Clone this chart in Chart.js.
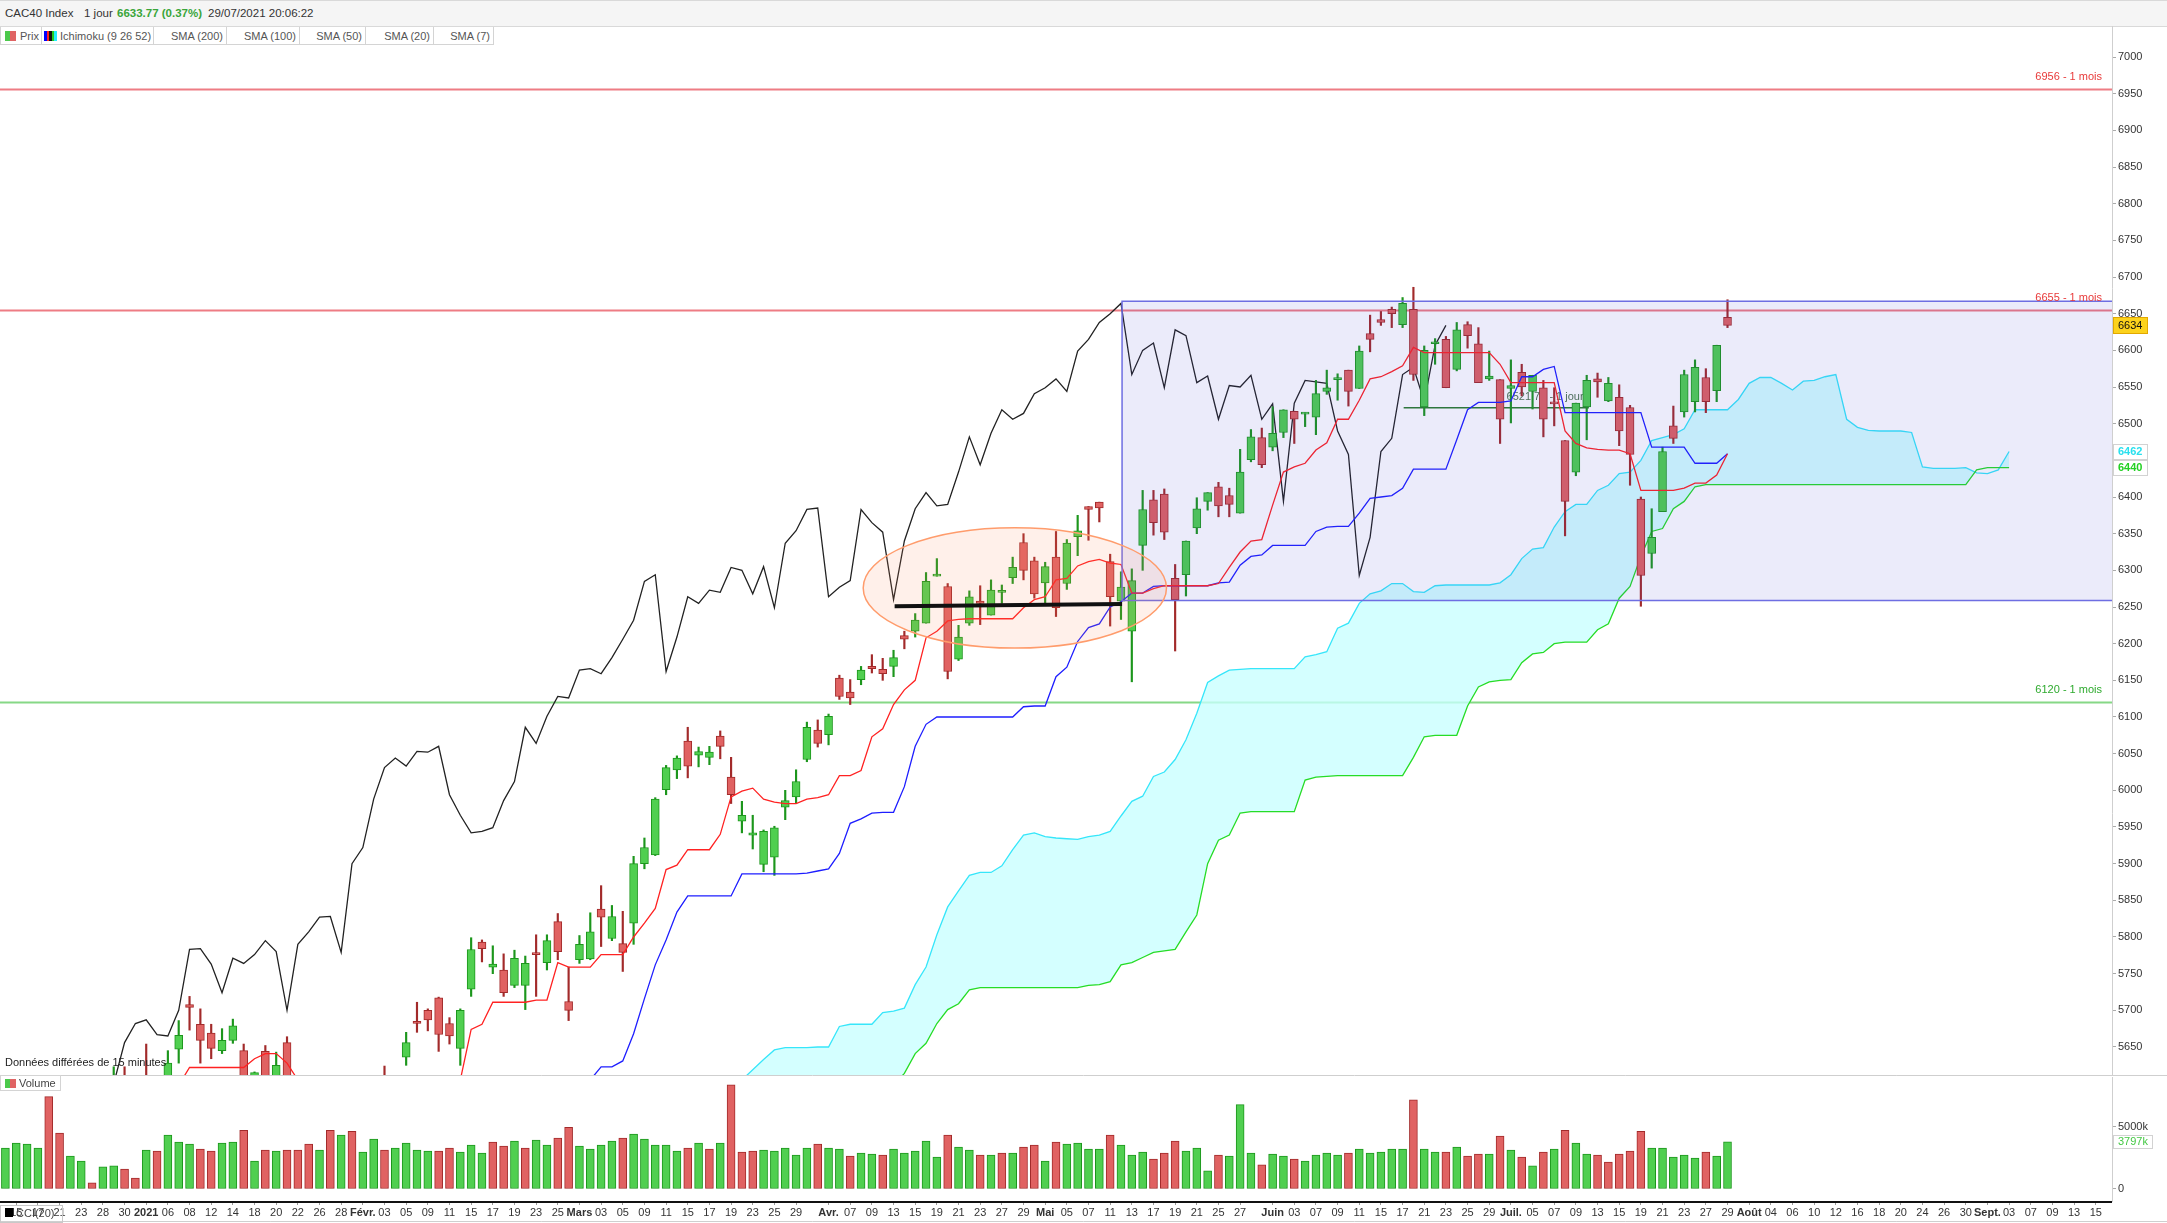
<!DOCTYPE html>
<html><head><meta charset="utf-8">
<script src="https://cdn.jsdelivr.net/npm/chart.js@4.4.0/dist/chart.umd.min.js"></script>
<style>
html,body{margin:0;padding:0;background:#fff;}
body{width:2167px;height:1223px;position:relative;overflow:hidden;font-family:"Liberation Sans",Arial,sans-serif;}
#hdr{position:absolute;left:0;top:0;width:2167px;height:27px;background:#f5f5f5;border-top:1px solid #d9d9d9;border-bottom:1px solid #d9d9d9;box-sizing:border-box;font-size:11.5px;color:#333;}
#hdr span{position:absolute;top:6px;white-space:nowrap;}
#hdr .g{color:#3aa53a;font-weight:bold;}
#leg{position:absolute;left:0;top:27px;height:19px;width:494px;z-index:3;}
#leg .it{position:absolute;top:0;height:18px;border:1px solid #d4d4d4;border-top:none;background:#fff;box-sizing:border-box;font-size:11px;color:#555;}
#leg .it span{position:absolute;top:3px;white-space:nowrap;}
#leg i{position:absolute;top:4px;height:10px;display:block;}
canvas{position:absolute;left:0;}
#pc{top:26px;z-index:1;}
#vc{top:1075px;z-index:1;}
</style>
</head><body>
<div id="hdr"><span style="left:5px">CAC40 Index</span><span style="left:84px">1 jour</span><span class="g" style="left:117px">6633.77 (0.37%)</span><span style="left:208px">29/07/2021 20:06:22</span></div>
<div id="leg">
 <div class="it" style="left:0;width:42px"><i style="left:4px;width:11px;background:linear-gradient(90deg,#4cc94c 50%,#e06464 50%)"></i><span style="left:19px">Prix</span></div>
 <div class="it" style="left:41px;width:113px"><i style="left:2px;width:13px;background:linear-gradient(90deg,#0000ff 0 20%,#ff2020 20% 40%,#111 40% 60%,#22cc22 60% 80%,#22eeff 80% 100%)"></i><span style="left:18px">Ichimoku (9 26 52)</span></div>
 <div class="it" style="left:153px;width:74px"><span style="right:3px">SMA (200)</span></div>
 <div class="it" style="left:226px;width:74px"><span style="right:3px">SMA (100)</span></div>
 <div class="it" style="left:299px;width:67px"><span style="right:3px">SMA (50)</span></div>
 <div class="it" style="left:365px;width:69px"><span style="right:3px">SMA (20)</span></div>
 <div class="it" style="left:433px;width:61px"><span style="right:3px">SMA (7)</span></div>
</div>
<canvas id="pc" width="2167" height="1049"></canvas>
<canvas id="vc" width="2167" height="148"></canvas>
<script>
// ---------------- DATA ----------------
const categories = [
"2020-12-14","2020-12-15","2020-12-16","2020-12-17","2020-12-18","2020-12-21","2020-12-22","2020-12-23","2020-12-24","2020-12-28","2020-12-29","2020-12-30","2020-12-31",
"2021-01-04","2021-01-05","2021-01-06","2021-01-07","2021-01-08","2021-01-11","2021-01-12","2021-01-13","2021-01-14","2021-01-15","2021-01-18","2021-01-19","2021-01-20","2021-01-21","2021-01-22","2021-01-25","2021-01-26","2021-01-27","2021-01-28","2021-01-29",
"2021-02-01","2021-02-02","2021-02-03","2021-02-04","2021-02-05","2021-02-08","2021-02-09","2021-02-10","2021-02-11","2021-02-12","2021-02-15","2021-02-16","2021-02-17","2021-02-18","2021-02-19","2021-02-22","2021-02-23","2021-02-24","2021-02-25","2021-02-26",
"2021-03-01","2021-03-02","2021-03-03","2021-03-04","2021-03-05","2021-03-08","2021-03-09","2021-03-10","2021-03-11","2021-03-12","2021-03-15","2021-03-16","2021-03-17","2021-03-18","2021-03-19","2021-03-22","2021-03-23","2021-03-24","2021-03-25","2021-03-26","2021-03-29","2021-03-30","2021-03-31",
"2021-04-01","2021-04-06","2021-04-07","2021-04-08","2021-04-09","2021-04-12","2021-04-13","2021-04-14","2021-04-15","2021-04-16","2021-04-19","2021-04-20","2021-04-21","2021-04-22","2021-04-23","2021-04-26","2021-04-27","2021-04-28","2021-04-29","2021-04-30",
"2021-05-03","2021-05-04","2021-05-05","2021-05-06","2021-05-07","2021-05-10","2021-05-11","2021-05-12","2021-05-13","2021-05-14","2021-05-17","2021-05-18","2021-05-19","2021-05-20","2021-05-21","2021-05-24","2021-05-25","2021-05-26","2021-05-27","2021-05-28","2021-05-31",
"2021-06-01","2021-06-02","2021-06-03","2021-06-04","2021-06-07","2021-06-08","2021-06-09","2021-06-10","2021-06-11","2021-06-14","2021-06-15","2021-06-16","2021-06-17","2021-06-18","2021-06-21","2021-06-22","2021-06-23","2021-06-24","2021-06-25","2021-06-28","2021-06-29","2021-06-30",
"2021-07-01","2021-07-02","2021-07-05","2021-07-06","2021-07-07","2021-07-08","2021-07-09","2021-07-12","2021-07-13","2021-07-14","2021-07-15","2021-07-16","2021-07-19","2021-07-20","2021-07-21","2021-07-22","2021-07-23","2021-07-26","2021-07-27","2021-07-28","2021-07-29","2021-07-30",
"2021-08-02","2021-08-03","2021-08-04","2021-08-05","2021-08-06","2021-08-09","2021-08-10","2021-08-11","2021-08-12","2021-08-13","2021-08-16","2021-08-17","2021-08-18","2021-08-19","2021-08-20","2021-08-23","2021-08-24","2021-08-25","2021-08-26","2021-08-27","2021-08-30","2021-08-31",
"2021-09-01","2021-09-02","2021-09-03","2021-09-06","2021-09-07","2021-09-08","2021-09-09","2021-09-10","2021-09-13","2021-09-14","2021-09-15","2021-09-16"];

const opens = [5510,5520,5555,5560,5565,5500,5420,5480,5530,5540,
5595,5608,5590,5610,5570,5560,5647,5708,5681,5669,
5645,5659,5645,5596,5644,5600,5656,5580,5570,5500,
5530,5460,5480,5420,5490,5600,5570,5636,5685,5700,
5717,5682,5648,5729,5793,5759,5755,5734,5734,5778,
5765,5821,5712,5769,5770,5838,5798,5791,5819,5900,
5912,6001,6028,6067,6048,6045,6074,6018,5958,5939,
5899,5909,5977,5991,6042,6082,6076,6153,6134,6151,
6169,6165,6169,6211,6217,6228,6292,6278,6179,6228,
6258,6239,6270,6290,6338,6313,6283,6318,6282,6346,
6387,6393,6312,6258,6217,6334,6396,6404,6289,6294,
6358,6394,6414,6402,6378,6451,6481,6468,6488,6517,
6513,6509,6544,6560,6573,6548,6623,6642,6656,6635,
6656,6523,6609,6615,6574,6635,6609,6561,6560,6548,
6570,6544,6549,6528,6477,6434,6523,6561,6531,6536,
6522,6397,6323,6380,6497,6516,6530,6563,6545,6645];

const highs = [5560,5555,5575,5590,5580,5510,5480,5540,5540,5600,
5623,5623,5600,5654,5600,5645,5686,5719,5702,5681,
5675,5688,5654,5616,5652,5643,5664,5600,5590,5570,
5550,5520,5490,5470,5580,5624,5610,5670,5711,5702,
5718,5690,5702,5799,5796,5788,5777,5782,5774,5803,
5803,5832,5759,5802,5833,5870,5843,5835,5910,5935,
5990,6034,6047,6086,6059,6060,6081,6045,5985,5966,
5946,5951,6000,6028,6093,6096,6104,6157,6151,6169,
6185,6180,6191,6217,6241,6297,6316,6282,6225,6272,
6279,6287,6280,6318,6350,6318,6311,6353,6342,6375,
6387,6393,6322,6298,6302,6409,6409,6411,6308,6340,
6399,6406,6420,6412,6465,6492,6494,6523,6519,6517,
6515,6559,6573,6568,6573,6606,6648,6653,6659,6672,
6686,6606,6616,6619,6638,6639,6631,6599,6560,6587,
6581,6566,6559,6549,6477,6528,6566,6569,6563,6553,
6525,6400,6384,6468,6524,6573,6587,6575,6607,6669];

const lows = [5500,5505,5535,5550,5510,5340,5400,5470,5510,5530,
5580,5590,5540,5556,5540,5550,5628,5673,5628,5634,
5641,5655,5590,5580,5585,5590,5580,5530,5460,5490,
5460,5440,5390,5400,5480,5540,5560,5625,5670,5672,
5644,5654,5625,5719,5766,5750,5719,5731,5701,5719,
5755,5769,5686,5764,5769,5787,5795,5753,5790,5893,
5911,5994,6016,6017,6032,6035,6043,5982,5942,5920,
5889,5884,5960,5982,6039,6059,6062,6124,6117,6144,
6160,6150,6155,6193,6209,6228,6292,6152,6177,6225,
6226,6239,6255,6282,6287,6262,6255,6237,6274,6320,
6341,6366,6224,6233,6148,6300,6348,6342,6190,6265,
6350,6382,6373,6373,6378,6448,6440,6463,6481,6473,
6496,6485,6540,6532,6524,6548,6598,6634,6631,6631,
6559,6511,6581,6549,6572,6603,6556,6559,6473,6501,
6538,6520,6482,6497,6347,6429,6478,6536,6530,6470,
6416,6251,6303,6380,6473,6509,6516,6515,6530,6631];

const closes = [5528,5548,5549,5570,5528,5393,5466,5527,5522,5588,
5608,5599,5551,5588,5564,5628,5666,5704,5659,5648,
5659,5679,5611,5615,5598,5625,5590,5559,5521,5530,
5481,5511,5399,5461,5570,5560,5600,5656,5682,5687,
5667,5665,5700,5783,5784,5763,5724,5771,5764,5776,
5795,5780,5700,5790,5807,5827,5828,5779,5900,5922,
5988,6031,6044,6033,6053,6052,6060,5994,5966,5942,
5944,5949,5986,6012,6086,6064,6101,6128,6126,6164,
6166,6159,6181,6206,6232,6285,6294,6162,6209,6264,
6255,6273,6270,6304,6300,6268,6305,6249,6337,6354,
6383,6385,6264,6277,6286,6383,6365,6352,6260,6340,
6384,6406,6388,6390,6434,6482,6444,6487,6519,6506,
6514,6541,6549,6561,6544,6599,6615,6638,6650,6664,
6567,6600,6610,6549,6628,6620,6556,6565,6506,6552,
6550,6566,6506,6527,6394,6528,6559,6557,6555,6490,
6458,6293,6345,6462,6480,6567,6577,6530,6607,6634];

// volume in thousands
const volumes = [3300,3700,3620,3300,7450,4500,2660,2260,505,1780,
1860,1600,880,3140,3060,4340,3780,3620,3220,3060,
3700,3780,4730,2260,3140,3060,3140,3140,3620,3140,
4730,4340,4650,2980,4020,3140,3300,3700,3140,3060,
3060,3300,2980,3540,2900,3780,3460,3860,3300,3940,
3540,4100,4970,3460,3220,3540,3860,4100,4420,4020,
3540,3540,3060,3300,3700,3220,3700,8400,2980,3060,
3140,3060,3300,2740,3300,3620,3300,3220,2660,2900,
2820,2740,3220,2900,3060,3860,2580,4340,3380,3140,
2740,2740,2900,2900,3380,3540,2260,3780,3620,3700,
3220,3220,4340,3540,2740,2980,2420,2900,3860,3060,
3300,1460,2740,2660,6800,2900,1940,2820,2660,2420,
2260,2740,2900,2740,2900,3220,2900,2980,3220,3220,
7200,3220,2980,2980,3380,2660,2820,2820,4260,3140,
2580,1860,2980,3220,4730,3700,2820,2740,2180,2820,
3060,4650,3300,3300,2580,2740,2500,2980,2660,3797];

const tenkan = [5480,5490,5500,5510,5515,5465,5465,5465,5465,5480,
5482,5482,5482,5497,5520,5562,5598,5622,5622,5622,
5622,5622,5622,5634,5641,5641,5628,5605,5574,5574,
5574,5552,5527,5527,5527,5507,5507,5530,5550,5550,
5554,5559,5605,5674,5681,5711,5711,5711,5711,5714,
5714,5765,5759,5759,5759,5776,5776,5776,5800,5819,
5839,5892,5898,5919,5919,5919,5940,5991,5999,6003,
5988,5984,5982,5982,5988,5990,5994,6020,6020,6027,
6073,6084,6117,6137,6150,6208,6217,6231,6233,6234,
6234,6234,6234,6234,6249,6260,6264,6287,6289,6306,
6312,6315,6310,6308,6269,6269,6275,6279,6279,6279,
6279,6279,6282,6304,6325,6340,6342,6389,6434,6441,
6446,6464,6474,6506,6506,6532,6561,6564,6571,6579,
6604,6597,6597,6597,6597,6597,6597,6597,6581,6556,
6556,6556,6556,6556,6490,6473,6467,6465,6464,6464,
6459,6409,6409,6409,6409,6412,6419,6419,6430,6459];

const kijun = [5420,5430,5440,5445,5450,5450,5455,5460,5460,5465,
5470,5470,5475,5500,5500,5510,5530,5530,5530,5530,
5530,5530,5530,5530,5530,5530,5530,5530,5530,5530,
5530,5555,5555,5555,5555,5555,5555,5555,5555,5555,
5555,5555,5555,5595,5595,5595,5595,5595,5595,5595,
5595,5605,5605,5605,5605,5623,5623,5631,5668,5716,
5762,5796,5834,5856,5856,5856,5856,5856,5886,5886,
5886,5886,5886,5886,5887,5890,5893,5914,5955,5961,
5969,5970,5970,6005,6060,6090,6100,6100,6100,6100,
6100,6100,6100,6100,6114,6115,6115,6155,6168,6203,
6222,6227,6250,6257,6269,6269,6278,6279,6279,6279,
6279,6279,6283,6284,6307,6319,6321,6334,6334,6334,
6334,6353,6359,6360,6360,6378,6398,6400,6402,6412,
6438,6438,6438,6438,6478,6519,6529,6529,6529,6531,
6564,6564,6574,6578,6515,6515,6515,6515,6515,6515,
6515,6515,6468,6468,6468,6468,6446,6446,6446,6459];

// lagging span, plotted from the first category
const chikou = [5590,5559,5521,5530,5481,5511,5399,5461,5570,5560,
5600,5656,5682,5687,5667,5665,5700,5783,5784,5763,
5724,5771,5764,5776,5795,5780,5700,5790,5807,5827,
5828,5779,5900,5922,5988,6031,6044,6033,6053,6052,
6060,5994,5966,5942,5944,5949,5986,6012,6086,6064,
6101,6128,6126,6164,6166,6159,6181,6206,6232,6285,
6294,6162,6209,6264,6255,6273,6270,6304,6300,6268,
6305,6249,6337,6354,6383,6385,6264,6277,6286,6383,
6365,6352,6260,6340,6384,6406,6388,6390,6434,6482,
6444,6487,6519,6506,6514,6541,6549,6561,6544,6599,
6615,6638,6650,6664,6567,6600,6610,6549,6628,6620,
6556,6565,6506,6552,6550,6566,6506,6527,6394,6528,
6559,6557,6555,6490,6458,6293,6345,6462,6480,6567,
6577,6530,6607,6634];

// leading spans start at category index cloudStart
const cloudStart = 62;
const senkouA = [5560,5570,5575,5580,5585,5592,5605,5619,5633,5646,
5649,5649,5649,5650,5650,5678,5681,5681,5681,5697,
5699,5703,5735,5759,5803,5841,5863,5884,5888,5888,
5897,5919,5939,5942,5937,5935,5934,5933,5937,5939,
5944,5965,5985,5992,6019,6025,6042,6069,6105,6147,
6156,6164,6165,6166,6166,6166,6166,6166,6182,6185,
6189,6221,6228,6255,6268,6272,6282,6282,6271,6270,
6279,6280,6280,6280,6280,6280,6283,6294,6316,6329,
6331,6359,6380,6390,6390,6409,6416,6432,6434,6450,
6477,6481,6485,6493,6519,6519,6519,6519,6533,6555,
6563,6563,6555,6546,6558,6559,6564,6567,6506,6495,
6491,6490,6490,6490,6488,6441,6439,6439,6439,6440,
6433,6432,6437,6462];
const senkouB = [5480,5485,5490,5495,5500,5505,5510,5515,5520,5525,
5530,5535,5540,5540,5545,5550,5560,5570,5578,5586,
5598,5614,5641,5655,5682,5701,5709,5728,5731,5731,
5731,5731,5731,5731,5731,5731,5731,5731,5734,5735,
5739,5762,5765,5772,5779,5781,5783,5807,5830,5900,
5932,5939,5969,5971,5971,5971,5971,5971,6014,6018,
6019,6020,6020,6020,6020,6020,6020,6020,6045,6073,
6075,6075,6075,6115,6141,6148,6150,6151,6174,6186,
6188,6200,6202,6202,6202,6219,6227,6262,6278,6319,
6353,6357,6384,6394,6414,6417,6417,6417,6417,6417,
6417,6417,6417,6417,6417,6417,6417,6417,6417,6417,
6417,6417,6417,6417,6417,6417,6417,6417,6417,6417,
6437,6440,6440,6440];

const priceTicks = [5650,5700,5750,5800,5850,5900,5950,6000,6050,6100,6150,6200,6250,6300,6350,6400,6450,6500,6550,6600,6650,6700,6750,6800,6850,6900,6950,7000];
const volumeTicks = [0,5000];
const monthNames = ["Janv.","Févr.","Mars","Avr.","Mai","Juin","Juil.","Août","Sept.","Oct.","Nov.","Déc."];

// user drawings (data units: category index, price)
const monthLevels = [6956, 6655, 6120];
const dayLevel = 6521.71;
const dayLevelSpan = [129.1, 146.2];
const rangeBox = {fromIndex: 103.1, low: 6259, high: 6667};
const ellipseMark = {index: 93.2, price: 6276, halfSlots: 14.0, halfPoints: 82};
const supportLine = {fromIndex: 82.1, fromPrice: 6251, toIndex: 103.1, toPrice: 6254};

// ---------------- STYLE ----------------
const F = '"Liberation Sans", Arial, sans-serif';
const UP_FILL = '#50cf50', UP_LINE = '#1c961c';
const DN_FILL = '#e06262', DN_LINE = '#a22a2a';
const levelColors = ['#ee7c84', '#ee7c84', '#86d886'];
const levelTextColors = ['#e83a3a', '#e83a3a', '#2eaa2e'];

const isUp = i => closes[i] >= opens[i];
const volUp = i => i === 0 ? closes[i] >= opens[i] : closes[i] >= closes[i - 1];

function buildTickLabels() {
  const out = [];
  let last = -1;
  const parts = categories.map(s => s.split('-').map(Number));
  for (let i = 0; i < parts.length; i++) {
    const [y, m, d] = parts[i];
    const prev = i > 0 ? parts[i - 1] : null;
    const next = i + 1 < parts.length ? parts[i + 1] : null;
    const monthStart = prev && prev[1] !== m;
    const yearStart = prev && prev[0] !== y;
    const nextMonthStart = next && next[1] !== m;
    if (monthStart) { out.push({text: yearStart ? String(y) : monthNames[m - 1], bold: true}); last = i; }
    else if (i - last >= 2 && !nextMonthStart) { out.push({text: String(d).padStart(2, '0'), bold: false}); last = i; }
    else out.push(null);
  }
  return out;
}
const tickLabels = buildTickLabels();

const PRICE_MIN = 5611.8, PRICE_MAX = 7042.3;
const VOL_MIN = -968, VOL_MAX = 9032;

function drawTag(ctx, x, yc, w, h, text, fill, stroke, color, bold) {
  const top = Math.round(yc - h / 2);
  ctx.fillStyle = fill; ctx.fillRect(x, top, w, h);
  ctx.strokeStyle = stroke; ctx.lineWidth = 1; ctx.strokeRect(x + 0.5, top + 0.5, w - 1, h - 1);
  ctx.fillStyle = color; ctx.font = (bold ? 'bold ' : '') + '11px ' + F;
  ctx.textAlign = 'left'; ctx.textBaseline = 'middle';
  ctx.fillText(text, x + 5, yc + 0.5);
}

const priceOverlay = {
  id: 'priceOverlay',
  beforeDatasetsDraw(chart) {
    const {ctx, chartArea: a, scales: {x, y}} = chart;
    ctx.save();
    ctx.beginPath(); ctx.rect(a.left, a.top, a.right - a.left, a.bottom - a.top); ctx.clip();
    monthLevels.forEach((v, k) => {
      const py = Math.round(y.getPixelForValue(v)) + 0.5;
      ctx.strokeStyle = levelColors[k]; ctx.lineWidth = 2;
      ctx.beginPath(); ctx.moveTo(a.left, py); ctx.lineTo(a.right, py); ctx.stroke();
    });
    const dy = y.getPixelForValue(dayLevel);
    ctx.strokeStyle = '#2c7d2c'; ctx.lineWidth = 1.5;
    ctx.beginPath(); ctx.moveTo(x.getPixelForValue(dayLevelSpan[0]), dy); ctx.lineTo(x.getPixelForValue(dayLevelSpan[1]), dy); ctx.stroke();
    ctx.fillStyle = 'rgba(60,100,60,0.9)'; ctx.font = '11px ' + F; ctx.textAlign = 'left'; ctx.textBaseline = 'alphabetic';
    ctx.fillText(dayLevel.toFixed(2) + ' - 1 jour', x.getPixelForValue(138.6), y.getPixelForValue(6532));
    ctx.restore();
  },
  afterDatasetsDraw(chart) {
    const {ctx, chartArea: a, scales: {x, y}} = chart;
    ctx.save();
    ctx.beginPath(); ctx.rect(a.left, a.top, a.right - a.left, a.bottom - a.top); ctx.clip();
    // range box
    const bx = x.getPixelForValue(rangeBox.fromIndex);
    const by1 = y.getPixelForValue(rangeBox.high), by2 = y.getPixelForValue(rangeBox.low);
    ctx.fillStyle = 'rgba(70,70,210,0.105)';
    ctx.fillRect(bx, by1, a.right - bx, by2 - by1);
    ctx.strokeStyle = '#6e6ee2'; ctx.lineWidth = 1.5;
    ctx.beginPath();
    ctx.moveTo(a.right, by1); ctx.lineTo(bx, by1); ctx.lineTo(bx, by2); ctx.lineTo(a.right, by2);
    ctx.stroke();
    // ellipse
    const cx = x.getPixelForValue(ellipseMark.index), cy = y.getPixelForValue(ellipseMark.price);
    const rx = x.getPixelForValue(ellipseMark.index + ellipseMark.halfSlots) - cx;
    const ry = y.getPixelForValue(ellipseMark.price - ellipseMark.halfPoints) - cy;
    ctx.beginPath(); ctx.ellipse(cx, cy, rx, ry, 0, 0, Math.PI * 2);
    ctx.fillStyle = 'rgba(255,140,90,0.13)'; ctx.fill();
    ctx.strokeStyle = '#ff9c6c'; ctx.lineWidth = 1.5; ctx.stroke();
    // support line
    ctx.strokeStyle = '#111'; ctx.lineWidth = 4;
    ctx.beginPath();
    ctx.moveTo(x.getPixelForValue(supportLine.fromIndex), y.getPixelForValue(supportLine.fromPrice));
    ctx.lineTo(x.getPixelForValue(supportLine.toIndex), y.getPixelForValue(supportLine.toPrice));
    ctx.stroke();
    ctx.restore();
  },
  afterDraw(chart) {
    const {ctx, chartArea: a, scales: {y}} = chart;
    ctx.save();
    ctx.font = '11px ' + F; ctx.textAlign = 'right'; ctx.textBaseline = 'alphabetic';
    monthLevels.forEach((v, k) => {
      ctx.fillStyle = levelTextColors[k];
      ctx.fillText(v + ' - 1 mois', a.right - 10, y.getPixelForValue(v) - 9);
    });
    ctx.fillStyle = '#222'; ctx.textAlign = 'left'; ctx.textBaseline = 'middle';
    ctx.fillText('Données différées de 15 minutes', a.left + 5, a.bottom - 12);
    drawTag(ctx, a.right + 1, y.getPixelForValue(closes[closes.length - 1]), 35, 17,
      closes[closes.length - 1].toFixed(0), '#fcd21c', '#e2a800', '#111', false);
    drawTag(ctx, a.right + 1, y.getPixelForValue(senkouA[senkouA.length - 1]), 35, 16,
      String(senkouA[senkouA.length - 1]), '#fff', '#d2d2d2', '#28e0ee', true);
    drawTag(ctx, a.right + 1, y.getPixelForValue(senkouB[senkouB.length - 1]), 35, 16,
      String(senkouB[senkouB.length - 1]), '#fff', '#d2d2d2', '#22d022', true);
    ctx.restore();
  }
};

const fitY = s => { s.width = 55; s.paddingTop = 0; s.paddingBottom = 0; };

new Chart(document.getElementById('pc'), {
  type: 'bar',
  data: {
    labels: categories,
    datasets: [
      {type: 'line', label: 'Senkou A', data: senkouA.map((v, k) => ({x: categories[k + cloudStart], y: v})),
        borderColor: '#36e6fa', borderWidth: 1.3, pointRadius: 0, tension: 0,
        fill: {target: 1, above: 'rgba(200,255,255,0.78)', below: 'rgba(0,0,0,0)'}, order: 10},
      {type: 'line', label: 'Senkou B', data: senkouB.map((v, k) => ({x: categories[k + cloudStart], y: v})),
        borderColor: '#26dc26', borderWidth: 1.3, pointRadius: 0, tension: 0, fill: false, order: 9},
      {type: 'line', label: 'Chikou', data: chikou, borderColor: '#222', borderWidth: 1.3,
        pointRadius: 0, tension: 0, fill: false, order: 8},
      {type: 'bar', label: 'Mèches', data: lows.map((l, i) => [l, highs[i]]), grouped: false,
        barThickness: 1.5, backgroundColor: c => isUp(c.dataIndex) ? UP_LINE : DN_LINE, borderWidth: 0, order: 6},
      {type: 'bar', label: 'Prix', data: opens.map((o, i) => [o, closes[i]]), grouped: false,
        barThickness: 8, minBarLength: 2, borderSkipped: false, borderWidth: 1,
        backgroundColor: c => isUp(c.dataIndex) ? UP_FILL : DN_FILL,
        borderColor: c => isUp(c.dataIndex) ? UP_LINE : DN_LINE, order: 5},
      {type: 'line', label: 'Kijun', data: kijun, borderColor: '#1e1eff', borderWidth: 1.3,
        pointRadius: 0, tension: 0, fill: false, order: 2},
      {type: 'line', label: 'Tenkan', data: tenkan, borderColor: '#ff2222', borderWidth: 1.3,
        pointRadius: 0, tension: 0, fill: false, order: 1}
    ]
  },
  options: {
    responsive: false, animation: false,
    layout: {padding: 0},
    plugins: {legend: {display: false}, tooltip: {enabled: false}},
    scales: {
      x: {type: 'category', offset: true, display: false},
      y: {position: 'right', min: PRICE_MIN, max: PRICE_MAX,
        afterBuildTicks: s => { s.ticks = priceTicks.map(v => ({value: v})); },
        afterFit: fitY,
        ticks: {color: '#333', font: {family: F, size: 11}, padding: 2, callback: v => String(v)},
        grid: {drawOnChartArea: false, tickLength: 4, tickColor: '#aaa'},
        border: {display: true, color: '#cfcfcf'}}
    }
  },
  plugins: [priceOverlay]
});

const volumeOverlay = {
  id: 'volumeOverlay',
  afterDraw(chart) {
    const {ctx, chartArea: a, scales: {y}} = chart;
    const W = chart.width, H = chart.height;
    ctx.save();
    ctx.strokeStyle = '#cfcfcf'; ctx.lineWidth = 1;
    ctx.beginPath(); ctx.moveTo(0, 0.5); ctx.lineTo(W, 0.5); ctx.stroke();
    ctx.beginPath(); ctx.moveTo(0, H - 1.5); ctx.lineTo(W, H - 1.5); ctx.stroke();
    // collapsed CCI panel separator
    ctx.strokeStyle = '#111'; ctx.lineWidth = 2;
    ctx.beginPath(); ctx.moveTo(0, a.bottom + 1); ctx.lineTo(a.right, a.bottom + 1); ctx.stroke();
    // Volume legend
    ctx.fillStyle = '#fff'; ctx.fillRect(0, 1, 60, 15);
    ctx.strokeStyle = '#d4d4d4'; ctx.lineWidth = 1; ctx.strokeRect(0.5, 0.5, 60, 15);
    ctx.fillStyle = '#4cc94c'; ctx.fillRect(5, 4, 5, 9);
    ctx.fillStyle = '#e06464'; ctx.fillRect(10, 4, 6, 9);
    ctx.fillStyle = '#444'; ctx.font = '11px ' + F; ctx.textAlign = 'left'; ctx.textBaseline = 'middle';
    ctx.fillText('Volume', 19, 9);
    // CCI legend
    ctx.strokeStyle = '#c8c8c8'; ctx.strokeRect(0.5, a.bottom + 4.5, 62, 17);
    ctx.fillStyle = '#000'; ctx.fillRect(5, a.bottom + 7, 8, 9);
    ctx.fillStyle = '#444'; ctx.fillText('CCI(20)', 16, a.bottom + 13);
    // last volume tag
    const lv = volumes[volumes.length - 1];
    drawTag(ctx, a.right + 1, y.getPixelForValue(lv), 40, 14, lv + 'k', '#fff', '#d2d2d2', '#44c844', false);
    ctx.restore();
  }
};

new Chart(document.getElementById('vc'), {
  type: 'bar',
  data: {
    labels: categories,
    datasets: [{label: 'Volume', data: volumes, barThickness: 8, borderWidth: 1, borderSkipped: false,
      backgroundColor: c => volUp(c.dataIndex) ? UP_FILL : DN_FILL,
      borderColor: c => volUp(c.dataIndex) ? UP_LINE : DN_LINE}]
  },
  options: {
    responsive: false, animation: false,
    layout: {padding: {top: 2}},
    plugins: {legend: {display: false}, tooltip: {enabled: false}},
    scales: {
      x: {type: 'category', offset: true,
        grid: {offset: false, drawOnChartArea: false, tickLength: 4,
          color: c => tickLabels[c.index] ? '#999' : 'rgba(0,0,0,0)'},
        border: {display: false},
        ticks: {autoSkip: false, maxRotation: 0, minRotation: 0, padding: 1, color: '#333',
          font: c => ({family: F, size: 11, weight: (tickLabels[c.index] && tickLabels[c.index].bold) ? 'bold' : 'normal'}),
          callback: (v, i) => tickLabels[i] ? tickLabels[i].text : ''},
        afterFit: s => { s.height = 22; s.paddingLeft = 0; s.paddingRight = 0; }},
      y: {position: 'right', min: VOL_MIN, max: VOL_MAX,
        afterBuildTicks: s => { s.ticks = volumeTicks.map(v => ({value: v})); },
        afterFit: fitY,
        ticks: {color: '#333', font: {family: F, size: 11}, padding: 2, callback: v => v === 0 ? '0' : v + 'k'},
        grid: {drawOnChartArea: false, tickLength: 4, tickColor: '#aaa'},
        border: {display: true, color: '#cfcfcf'}}
    }
  },
  plugins: [volumeOverlay]
});
</script>
</body></html>
